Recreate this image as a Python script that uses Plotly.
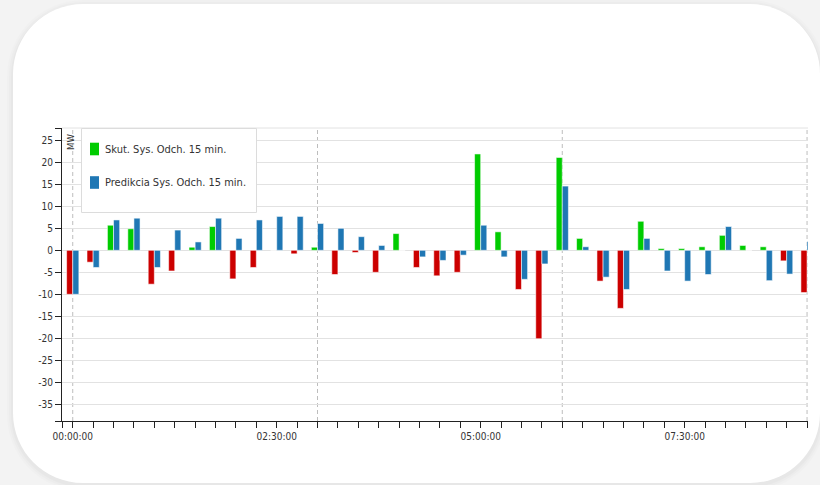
import plotly.graph_objects as go

# ---------------- data ----------------
minutes = list(range(0, 541, 15))  # 00:00 .. 09:00 every 15 min
skut = [-10.0, -2.7, 5.7, 4.9, -7.7, -4.7, 0.7, 5.4, -6.5, -3.9,
        0.0, -0.8, 0.7, -5.5, -0.5, -5.0, 3.8, -3.9, -5.8, -5.0,
        21.9, 4.2, -8.9, -20.1, 21.1, 2.7, -7.0, -13.2, 6.6, 0.4,
        0.4, 0.8, 3.4, 1.1, 0.8, -2.4, -9.6]
predikcia = [-10.0, -3.9, 6.9, 7.3, -3.9, 4.6, 1.9, 7.3, 2.7, 6.9,
             7.7, 7.7, 6.1, 5.0, 3.1, 1.1, 0.0, -1.5, -2.3, -1.1,
             5.7, -1.5, -6.6, -3.1, 14.6, 0.8, -6.1, -8.9, 2.7, -4.7,
             -7.0, -5.5, 5.4, 0.0, -6.9, -5.4, 2.0]
series_names = ["Skut. Sys. Odch. 15 min.", "Predikcia Sys. Odch. 15 min."]
label_minutes = [0, 150, 300, 450]
label_texts = ["00:00:00", "02:30:00", "05:00:00", "07:30:00"]
dashed_minutes = [0, 180, 360, 540]
y_ticks = list(range(-35, 26, 5))
unit_label = "MW"

GREEN = "#00cc00"
RED = "#cc0000"
BLUE = "#1f77b4"
FONT = "DejaVu Sans Condensed, Liberation Sans Narrow, sans-serif"
TXT = "#333333"

# plot-area geometry (pixels)
W, H = 820, 485
L, R, T, B = 62, 808, 128, 421
X_RANGE = [-7.9, 540.7]
Y_RANGE = [-38.8, 27.8]


def px2x(px):
    return (px - L) / (R - L)


def py2y(py):
    return (B - py) / (B - T)


def rounded_path(x0, y0, x1, y1, r):
    k = 0.5523 * r
    pts = []
    pts.append(f"M{px2x(x0 + r)},{py2y(y0)}")
    pts.append(f"L{px2x(x1 - r)},{py2y(y0)}")
    pts.append(f"C{px2x(x1 - r + k)},{py2y(y0)} {px2x(x1)},{py2y(y0 + r - k)} {px2x(x1)},{py2y(y0 + r)}")
    pts.append(f"L{px2x(x1)},{py2y(y1 - r)}")
    pts.append(f"C{px2x(x1)},{py2y(y1 - r + k)} {px2x(x1 - r + k)},{py2y(y1)} {px2x(x1 - r)},{py2y(y1)}")
    pts.append(f"L{px2x(x0 + r)},{py2y(y1)}")
    pts.append(f"C{px2x(x0 + r - k)},{py2y(y1)} {px2x(x0)},{py2y(y1 - r + k)} {px2x(x0)},{py2y(y1 - r)}")
    pts.append(f"L{px2x(x0)},{py2y(y0 + r)}")
    pts.append(f"C{px2x(x0)},{py2y(y0 + r - k)} {px2x(x0 + r - k)},{py2y(y0)} {px2x(x0 + r)},{py2y(y0)}")
    pts.append("Z")
    return " ".join(pts)


skut_pos = [v if v >= 0 else None for v in skut]
skut_neg = [v if v < 0 else None for v in skut]

fig = go.Figure()
fig.add_trace(go.Bar(x=minutes, y=skut_pos, name=series_names[0], offsetgroup="a",
                     marker=dict(color=GREEN, line=dict(color="rgba(255,255,255,0.55)", width=1)),
                     showlegend=False, hoverinfo="y"))
fig.add_trace(go.Bar(x=minutes, y=skut_neg, name=series_names[0], offsetgroup="a",
                     marker=dict(color=RED, line=dict(color="rgba(255,255,255,0.55)", width=1)),
                     showlegend=False, hoverinfo="y"))
fig.add_trace(go.Bar(x=minutes, y=predikcia, name=series_names[1], offsetgroup="b",
                     marker=dict(color=BLUE, line=dict(color="rgba(255,255,255,0.55)", width=1)),
                     showlegend=False, hoverinfo="y"))

shapes = []
# card shadow + card
for i, op in enumerate([0.010, 0.014, 0.02]):
    g = 6 - 2 * i
    shapes.append(dict(type="path", xref="paper", yref="paper", layer="below",
                       path=rounded_path(13 - g, 4 - g + 2, 820 + g, 483 + g + 2, 70 + g),
                       fillcolor=f"rgba(0,0,0,{op})", line=dict(width=0)))
shapes.append(dict(type="path", xref="paper", yref="paper", layer="below",
                   path=rounded_path(13, 4, 820, 483, 70),
                   fillcolor="white", line=dict(width=0)))
# top grid line
shapes.append(dict(type="line", xref="paper", yref="paper", layer="below",
                   x0=0, x1=1, y0=1, y1=1, line=dict(color="#e2e2e2", width=1)))
# dashed vertical lines
for m in dashed_minutes:
    shapes.append(dict(type="line", xref="x", yref="paper", layer="below",
                       x0=m, x1=m, y0=0, y1=1,
                       line=dict(color="#bdbdbd", width=1, dash="4px,3px")))

# manual legend
shapes.append(dict(type="rect", xref="paper", yref="paper", layer="above",
                   x0=px2x(81.5), x1=px2x(256.5), y0=py2y(212.5), y1=py2y(128.5),
                   fillcolor="white", line=dict(color="#dcdcdc", width=1)))
legend_colors = [GREEN, BLUE]
legend_centers = [149, 182.5]
annotations = []
for name, col, cy in zip(series_names, legend_colors, legend_centers):
    shapes.append(dict(type="rect", xref="paper", yref="paper", layer="above",
                       x0=px2x(90), x1=px2x(99), y0=py2y(cy + 6.3), y1=py2y(cy - 6.3),
                       fillcolor=col, line=dict(width=0)))
    annotations.append(dict(xref="paper", yref="paper", x=px2x(103), y=py2y(cy),
                            xanchor="left", yanchor="middle", showarrow=False,
                            text=name, font=dict(family=FONT, size=11, color=TXT)))
annotations.append(dict(xref="paper", yref="paper", x=px2x(70), y=py2y(132),
                        xanchor="center", yanchor="top", showarrow=False, textangle=-90,
                        text=unit_label, font=dict(family=FONT, size=9.5, color=TXT)))

x_tickvals = [X_RANGE[0]] + minutes
x_ticktext = [""] + [label_texts[label_minutes.index(m)] if m in label_minutes else "" for m in minutes]
y_tickvals = [Y_RANGE[0]] + y_ticks + [Y_RANGE[1]]
y_ticktext = [""] + [str(v) for v in y_ticks] + [""]

fig.update_layout(
    width=W, height=H,
    margin=dict(l=L, r=W - R, t=T, b=H - B, pad=0),
    paper_bgcolor="#f3f3f3", plot_bgcolor="rgba(0,0,0,0)",
    barmode="group", bargap=0.4, bargroupgap=0,
    showlegend=False,
    shapes=shapes, annotations=annotations,
    font=dict(family=FONT, size=10, color=TXT),
    xaxis=dict(range=X_RANGE, tickmode="array", tickvals=x_tickvals, ticktext=x_ticktext,
               showgrid=False, zeroline=False, showline=True, linecolor="#222", linewidth=1,
               ticks="outside", ticklen=6, tickcolor="#222", tickwidth=1,
               tickfont=dict(family=FONT, size=10, color=TXT), fixedrange=True),
    yaxis=dict(range=Y_RANGE, tickmode="array", tickvals=y_tickvals, ticktext=y_ticktext,
               showgrid=True, gridcolor="#e2e2e2", gridwidth=1, zeroline=False,
               showline=True, linecolor="#222", linewidth=1,
               ticks="outside", ticklen=6, tickcolor="#222", tickwidth=1,
               tickfont=dict(family=FONT, size=10, color=TXT), fixedrange=True),
)

fig.write_html("out.html", config={"displayModeBar": False},
               post_script="document.body.style.margin='0';document.body.style.overflow='hidden';")
